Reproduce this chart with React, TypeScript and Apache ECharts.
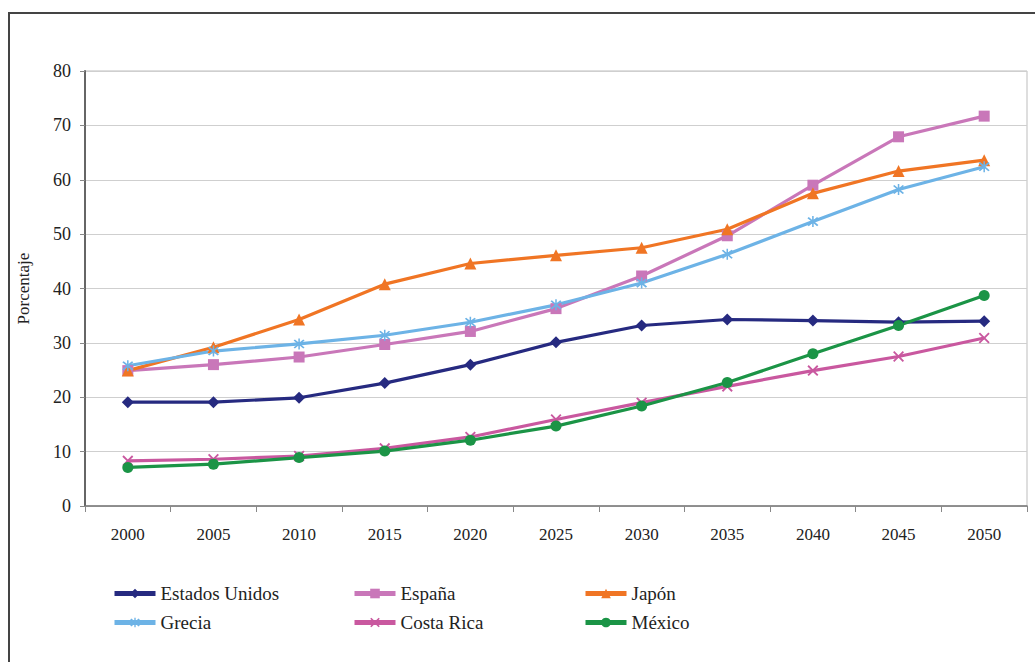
import React, { useEffect, useRef } from "react";
import * as echarts from "echarts";

const years = ["2000", "2005", "2010", "2015", "2020", "2025", "2030", "2035", "2040", "2045", "2050"];
const estadosUnidos = [19.1, 19.1, 19.9, 22.6, 26.0, 30.1, 33.2, 34.3, 34.1, 33.8, 34.0];
const espana = [24.9, 26.0, 27.4, 29.7, 32.1, 36.3, 42.3, 49.7, 59.0, 67.9, 71.7];
const japon = [24.9, 29.2, 34.3, 40.8, 44.6, 46.1, 47.5, 50.9, 57.5, 61.6, 63.6];
const grecia = [25.8, 28.5, 29.8, 31.4, 33.8, 37.0, 41.0, 46.3, 52.3, 58.2, 62.4];
const costaRica = [8.3, 8.6, 9.2, 10.6, 12.7, 15.9, 19.0, 22.0, 24.9, 27.5, 30.9];
const mexico = [7.1, 7.7, 8.9, 10.1, 12.1, 14.7, 18.4, 22.7, 28.0, 33.2, 38.7];
const yTicks = { min: 0, max: 80, interval: 10 };

const FONT = '"Liberation Serif", "Times New Roman", serif';

const X_SYMBOL = "path://M0,1.2 L1.2,0 L5,3.8 L8.8,0 L10,1.2 L6.2,5 L10,8.8 L8.8,10 L5,6.2 L1.2,10 L0,8.8 L3.8,5 Z";
const AST_SYMBOL =
  "path://M0,1.2 L1.2,0 L5,3.8 L8.8,0 L10,1.2 L6.2,5 L10,8.8 L8.8,10 L5,6.2 L1.2,10 L0,8.8 L3.8,5 Z M4.3,-1 L5.7,-1 L5.7,11 L4.3,11 Z";

export default function App() {
  const ref = useRef<HTMLDivElement>(null);
  useEffect(() => {
    if (!ref.current) return;
    const chart = echarts.init(ref.current, undefined, { renderer: "svg" });
    const mk = (name: string, data: number[], color: string, symbol: string, size: number) => ({
      name,
      type: "line",
      data,
      symbol,
      symbolSize: size,
      showSymbol: true,
      lineStyle: { color, width: 3.2 },
      itemStyle: { color, borderWidth: 0 },
      emphasis: { disabled: true },
      z: 3,
    });
    const legendText = { fontFamily: FONT, fontSize: 19, color: "#222" };
    const legendBase = {
      orient: "vertical",
      itemWidth: 41,
      itemHeight: 12,
      itemGap: 10,
      textStyle: legendText,
      lineStyle: { width: 5 },
      selectedMode: false,
      padding: 0,
    };
    chart.setOption({
      animation: false,
      backgroundColor: "#fff",
      graphic: [
        {
          type: "rect",
          shape: { x: 9, y: 13, width: 1100, height: 800 },
          style: { fill: "none", stroke: "#444", lineWidth: 2 },
          silent: true,
          z: -1,
        },
      ],
      grid: {
        left: 85,
        right: 8,
        top: 71,
        bottom: 156,
        show: true,
        borderColor: "#bdbdbd",
        borderWidth: 1,
      },
      legend: [
        { ...legendBase, left: 112, top: 584, data: ["Estados Unidos", "Grecia"] },
        { ...legendBase, left: 352, top: 584, data: ["España", "Costa Rica"] },
        { ...legendBase, left: 583, top: 584, data: ["Japón", "México"] },
      ],
      xAxis: {
        type: "category",
        data: years,
        boundaryGap: true,
        axisLine: { show: true, lineStyle: { color: "#777", width: 1.5 } },
        axisTick: { show: true, alignWithLabel: false, length: 6, lineStyle: { color: "#888" } },
        axisLabel: { fontFamily: FONT, fontSize: 17, color: "#222", margin: 20 },
        splitLine: { show: false },
      },
      yAxis: {
        type: "value",
        min: yTicks.min,
        max: yTicks.max,
        interval: yTicks.interval,
        name: "Porcentaje",
        nameLocation: "middle",
        nameGap: 53,
        nameRotate: 90,
        nameTextStyle: { fontFamily: FONT, fontSize: 17, color: "#222" },
        axisLine: { show: true, lineStyle: { color: "#666", width: 2 } },
        axisTick: { show: true, length: 5, lineStyle: { color: "#888" } },
        axisLabel: { fontFamily: FONT, fontSize: 18, color: "#222", margin: 14 },
        splitLine: { show: true, lineStyle: { color: "#cfcfcf", width: 1 } },
      },
      series: [
        mk("Estados Unidos", estadosUnidos, "#262a80", "diamond", 12),
        mk("España", espana, "#c977b9", "rect", 11),
        mk("Japón", japon, "#f07524", "triangle", 12),
        mk("Grecia", grecia, "#6db3e6", AST_SYMBOL, 11),
        mk("Costa Rica", costaRica, "#c9589f", X_SYMBOL, 11),
        mk("México", mexico, "#1b9446", "circle", 11),
      ],
    });
    return () => chart.dispose();
  }, []);
  return (
    <div
      ref={ref}
      style={{ position: "fixed", left: 0, top: 0, width: 1035, height: 662, background: "#fff" }}
    />
  );
}
